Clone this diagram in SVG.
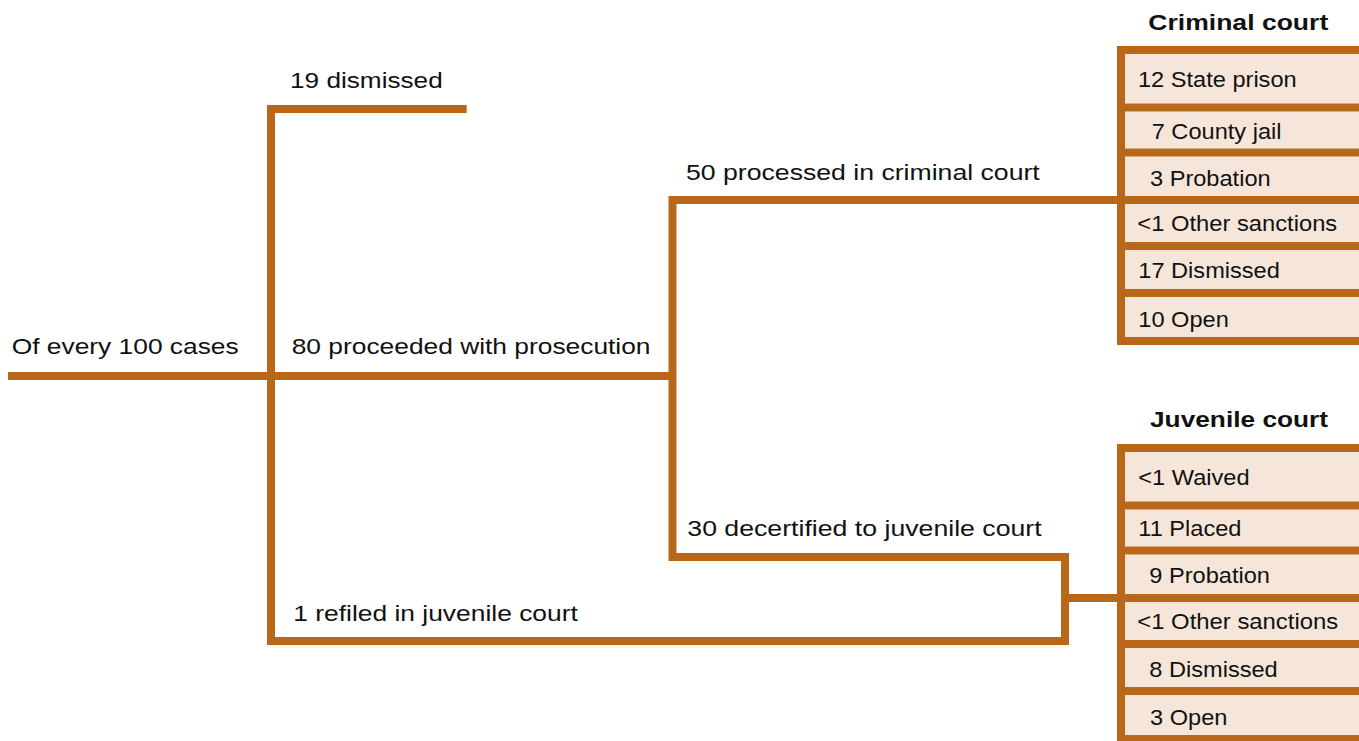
<svg xmlns="http://www.w3.org/2000/svg" width="1359" height="741" viewBox="0 0 1359 741">
<style>
  .ln{fill:none;stroke:#B86818;stroke-width:8;stroke-linejoin:miter;stroke-linecap:butt}
  .row{fill:#F6E6D9}
  .lbl{font-family:"Liberation Sans",Arial,sans-serif;font-size:22px;fill:#111}
  .hdr{font-family:"Liberation Sans",Arial,sans-serif;font-size:22px;font-weight:bold;fill:#111}
</style>
<rect width="1359" height="741" fill="#fff"/>

<g id="connectors">
  <path class="ln" d="M466.7,109 H271 V641 H1065 V557 H672.5 V200 H1121"/>
  <path class="ln" d="M8,376 H672.5"/>
  <path class="ln" d="M1065,598 H1121"/>
</g>

<g id="label-start"><text class="lbl" transform="translate(11.7,353.5) scale(1.198,1)">Of every 100 cases</text></g>
<g id="label-dismissed"><text class="lbl" transform="translate(290,88) scale(1.19,1)">19 dismissed</text></g>
<g id="label-prosecution"><text class="lbl" transform="translate(291.7,354.3) scale(1.198,1)">80 proceeded with prosecution</text></g>
<g id="label-criminal"><text class="lbl" transform="translate(686,180) scale(1.211,1)">50 processed in criminal court</text></g>
<g id="label-decertified"><text class="lbl" transform="translate(687.3,536) scale(1.213,1)">30 decertified to juvenile court</text></g>
<g id="label-refiled"><text class="lbl" transform="translate(293.3,621) scale(1.2,1)">1 refiled in juvenile court</text></g>

<g id="criminal-court">
  <text class="hdr" transform="translate(1148.3,30) scale(1.207,1)">Criminal court</text>
  <g id="cc-state-prison"><rect class="row" x="1125" y="54" width="234" height="49.5"/><text class="lbl" transform="translate(1138,86.7) scale(1.073,1)">12 State prison</text></g>
  <g id="cc-county-jail"><rect class="row" x="1125" y="111.5" width="234" height="37"/><text class="lbl" transform="translate(1151.7,139) scale(1.073,1)">7 County jail</text></g>
  <g id="cc-probation"><rect class="row" x="1125" y="156.5" width="234" height="39.5"/><text class="lbl" transform="translate(1150,185.5) scale(1.073,1)">3 Probation</text></g>
  <g id="cc-other"><rect class="row" x="1125" y="204" width="234" height="38"/><text class="lbl" transform="translate(1137.3,231) scale(1.08,1)">&lt;1 Other sanctions</text></g>
  <g id="cc-dismissed"><rect class="row" x="1125" y="250" width="234" height="39"/><text class="lbl" transform="translate(1138.3,278) scale(1.073,1)">17 Dismissed</text></g>
  <g id="cc-open"><rect class="row" x="1125" y="297" width="234" height="40"/><text class="lbl" transform="translate(1138.3,326.5) scale(1.073,1)">10 Open</text></g>
  <path class="ln" d="M1121,46 V345 M1117,50 H1359 M1117,107.5 H1359 M1117,152.5 H1359 M1117,200 H1359 M1117,246 H1359 M1117,293 H1359 M1117,341 H1359"/>
</g>

<g id="juvenile-court">
  <text class="hdr" transform="translate(1150,426.5) scale(1.194,1)">Juvenile court</text>
  <g id="jc-waived"><rect class="row" x="1125" y="452" width="234" height="49.5"/><text class="lbl" transform="translate(1138.3,484.5) scale(1.073,1)">&lt;1 Waived</text></g>
  <g id="jc-placed"><rect class="row" x="1125" y="509.5" width="234" height="37"/><text class="lbl" transform="translate(1138.3,536) scale(1.073,1)">11 Placed</text></g>
  <g id="jc-probation"><rect class="row" x="1125" y="554.5" width="234" height="39.5"/><text class="lbl" transform="translate(1149.3,583) scale(1.073,1)">9 Probation</text></g>
  <g id="jc-other"><rect class="row" x="1125" y="602" width="234" height="38"/><text class="lbl" transform="translate(1137.3,629.3) scale(1.085,1)">&lt;1 Other sanctions</text></g>
  <g id="jc-dismissed"><rect class="row" x="1125" y="648" width="234" height="39"/><text class="lbl" transform="translate(1149.3,676.5) scale(1.073,1)">8 Dismissed</text></g>
  <g id="jc-open"><rect class="row" x="1125" y="695" width="234" height="40"/><text class="lbl" transform="translate(1150,725) scale(1.073,1)">3 Open</text></g>
  <path class="ln" d="M1121,444 V743 M1117,448 H1359 M1117,505.5 H1359 M1117,550.5 H1359 M1117,598 H1359 M1117,644 H1359 M1117,691 H1359 M1117,739 H1359"/>
</g>
</svg>
